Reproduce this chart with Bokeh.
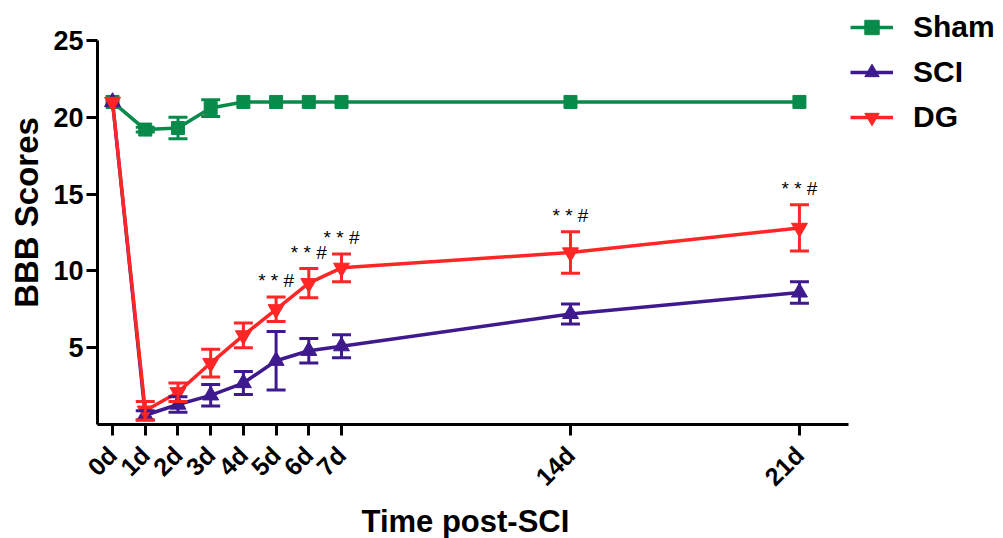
from bokeh.plotting import figure
from bokeh.models import (ColumnDataSource, Whisker, TeeHead, Legend, LegendItem,
                          Range1d, FixedTicker, Title)
from bokeh.core.properties import value
from bokeh.embed import file_html
from bokeh.resources import INLINE

days = [0, 1, 2, 3, 4, 5, 6, 7, 14, 21]
tick_labels = ["0d", "1d", "2d", "3d", "4d", "5d", "6d", "7d", "14d", "21d"]

sham = [21, 19.2, 19.3, 20.6, 21, 21, 21, 21, 21, 21]
sham_err = [0, 0.15, 0.7, 0.55, 0, 0, 0, 0, 0, 0]
sci = [21, 0.6, 1.3, 1.9, 2.7, 4.15, 4.8, 5.1, 7.2, 8.6]
sci_err = [0, 0.3, 0.5, 0.7, 0.75, 1.9, 0.8, 0.75, 0.65, 0.7]
dg = [21, 0.9, 2.1, 4.0, 5.8, 7.5, 9.2, 10.2, 11.2, 12.8]
dg_err = [0, 0.6, 0.6, 0.9, 0.8, 0.8, 0.95, 0.9, 1.35, 1.5]
sig_days = [5, 6, 7, 14, 21]
sig_text = "* * #"

FONT = "Liberation Sans"
GREEN = "#088a4b"
PURPLE = "#3f1a8e"
RED = "#ff2626"

# axis extents (data units) and frame geometry
X0, X1 = -0.46, 22.5
Y0, Y1 = 0, 25
PX_PER_DAY = 751 / (X1 - X0)
PX_PER_UNIT = 384 / (Y1 - Y0)
FW, FH = 900, 424

p = figure(frame_width=FW, frame_height=FH, min_border_left=97, min_border_top=0,
           min_border_right=0, min_border_bottom=112,
           x_range=Range1d(X0, X0 + FW / PX_PER_DAY),
           y_range=Range1d(Y0, Y0 + FH / PX_PER_UNIT),
           output_backend="svg", toolbar_location=None)
p.outline_line_color = None
p.xgrid.visible = False
p.ygrid.visible = False
p.background_fill_color = "white"
p.border_fill_color = "white"

for ax in (p.xaxis[0], p.yaxis[0]):
    ax.axis_line_width = 3
    ax.axis_line_color = "black"
    ax.major_tick_line_width = 3
    ax.major_tick_line_color = "black"
    ax.major_tick_out = 11
    ax.major_tick_in = 0
    ax.minor_tick_line_color = None
    ax.major_label_text_font = FONT
    ax.major_label_text_font_style = "bold"
    ax.major_label_text_color = "black"
    ax.axis_label_text_font = FONT
    ax.axis_label_text_font_style = "bold"
    ax.axis_label_text_color = "black"

p.xaxis.bounds = (X0, X1)
p.yaxis.bounds = (Y0, Y1)
p.xaxis.ticker = FixedTicker(ticks=days)
p.xaxis.major_label_overrides = {d: l for d, l in zip(days, tick_labels)}
p.xaxis.major_label_orientation = 0.785
p.xaxis.major_label_text_font_size = "25px"
p.xaxis.major_label_standoff = 15

p.yaxis.ticker = FixedTicker(ticks=[5, 10, 15, 20, 25])
p.yaxis.major_label_text_font_size = "27px"
p.yaxis.major_label_standoff = 3
p.yaxis.axis_label = "BBB Scores"
p.yaxis.axis_label_text_font_size = "33px"
p.yaxis.axis_label_standoff = 5

xlabel = Title(text="Time post-SCI", align="left", offset=264, standoff=0,
               vertical_align="top",
               text_font=FONT, text_font_style="bold", text_font_size="31px",
               text_color="black")
p.add_layout(xlabel, "below")

items = []
series = [("Sham", sham, sham_err, GREEN, "square", 13),
          ("SCI", sci, sci_err, PURPLE, "triangle", 16),
          ("DG", dg, dg_err, RED, "inverted_triangle", 16)]
for name, ys, errs, col, marker, size in series:
    src = ColumnDataSource(dict(x=days, y=ys))
    idx = [i for i, e in enumerate(errs) if e > 0]
    wsrc = ColumnDataSource(dict(x=[days[i] for i in idx],
                                 upper=[ys[i] + errs[i] for i in idx],
                                 lower=[ys[i] - errs[i] for i in idx]))
    w = Whisker(base="x", upper="upper", lower="lower", source=wsrc,
                line_color=col, line_width=3, level="glyph",
                upper_head=TeeHead(size=19, line_color=col, line_width=3),
                lower_head=TeeHead(size=19, line_color=col, line_width=3))
    p.add_layout(w)
    l = p.line("x", "y", source=src, line_color=col, line_width=3.5)
    s = p.scatter("x", "y", source=src, marker=marker, size=size,
                  fill_color=col, line_color=col)
    items.append(LegendItem(label=name, renderers=[l, s]))

sig_idx = [days.index(d) for d in sig_days]
tsrc = ColumnDataSource(dict(x=sig_days,
                             y=[dg[i] + dg_err[i] for i in sig_idx],
                             t=[sig_text] * len(sig_days)))
p.text("x", "y", text="t", source=tsrc, text_font=value(FONT),
       text_font_size="19px", text_align="center", text_baseline="bottom",
       y_offset=-6, text_color="black")

legend = Legend(items=items, location=(753, 289), orientation="vertical",
                label_text_font=FONT, label_text_font_style="bold",
                label_text_font_size="30px", label_text_color="black",
                glyph_width=43, glyph_height=36, label_height=36, spacing=9,
                label_standoff=20, padding=0, margin=0,
                border_line_color=None, background_fill_alpha=0)
p.add_layout(legend)

open("out.html", "w").write(file_html(p, INLINE))
